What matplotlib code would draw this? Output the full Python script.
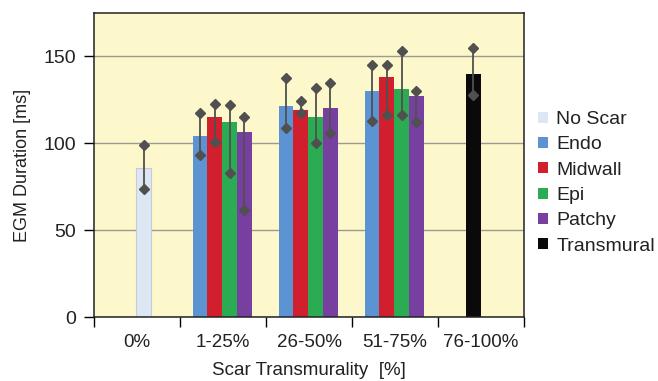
import matplotlib
matplotlib.use("Agg")
import matplotlib.pyplot as plt
import numpy as np
from matplotlib.patches import Patch

plt.rcParams['font.family'] = ['Liberation Sans', 'DejaVu Sans']

categories = ['0%', '1-25%', '26-50%', '51-75%', '76-100%']
series = ['No Scar', 'Endo', 'Midwall', 'Epi', 'Patchy', 'Transmural']
colors = ['#dde7f4', '#5b93d3', '#d21f2e', '#2bab52', '#7740a0', '#0a0a0a']

# No Scar (0%)
no_scar_mean = [86.0]
no_scar_hi = [99.0]
no_scar_lo = [73.5]
# Scar subtypes for 1-25%, 26-50%, 51-75%
endo_mean = [104.0, 121.5, 130.2]
endo_hi = [117.6, 137.8, 145.2]
endo_lo = [93.3, 108.6, 113.0]
midwall_mean = [115.3, 119.3, 138.4]
midwall_hi = [122.7, 124.6, 145.2]
midwall_lo = [100.9, 117.7, 116.3]
epi_mean = [112.5, 115.0, 131.1]
epi_hi = [122.1, 131.7, 153.4]
epi_lo = [82.7, 100.0, 116.3]
patchy_mean = [106.7, 120.2, 127.3]
patchy_hi = [115.3, 134.6, 130.3]
patchy_lo = [61.5, 106.0, 112.5]
# Transmural (76-100%)
transmural_mean = [140.0]
transmural_hi = [154.8]
transmural_lo = [127.9]

fig = plt.figure(figsize=(6.58, 3.81), dpi=100)
ax = fig.add_axes([94/658, 64/381, 430/658, 304/381])
ax.set_facecolor('#fcf8cb')

w = 0.172
err_col = '#505050'

def draw(xs, mean, hi, lo, color, edge=None):
    ax.bar(xs, mean, width=w, color=color, edgecolor=edge if edge else 'none',
           linewidth=0.8 if edge else 0, zorder=2)
    ax.vlines(xs, lo, hi, color=err_col, lw=1.3, zorder=3)
    ax.plot(xs, hi, linestyle='none', marker='D', ms=5, color=err_col, zorder=4)
    ax.plot(xs, lo, linestyle='none', marker='D', ms=5, color=err_col, zorder=4)

draw(np.array([0]) + 0.08, no_scar_mean, no_scar_hi, no_scar_lo, colors[0], edge='#c8ccd4')
grp = np.array([1, 2, 3])
for i, (m, h, l) in enumerate([(endo_mean, endo_hi, endo_lo),
                                (midwall_mean, midwall_hi, midwall_lo),
                                (epi_mean, epi_hi, epi_lo),
                                (patchy_mean, patchy_hi, patchy_lo)]):
    draw(grp + (i - 1.5) * w - 0.01, m, h, l, colors[i + 1])
draw(np.array([4]) - 0.09, transmural_mean, transmural_hi, transmural_lo, colors[5])

ax.set_xlim(-0.5, 4.5)
ax.set_ylim(0, 175)
ax.set_yticks([0, 50, 100, 150])
ax.yaxis.grid(True, color='#9a9a92', lw=1)
ax.set_axisbelow(True)
ax.set_xticks(np.arange(-0.5, 5, 1))
ax.set_xticklabels([])
ax.set_xticks(np.arange(5), minor=True)
ax.set_xticklabels(categories, minor=True)
ax.tick_params(axis='x', which='major', direction='out', length=7, width=1, color='black')
ax.tick_params(axis='x', which='minor', length=0, labelsize=13.5, pad=12, colors='#222222')
ax.tick_params(axis='y', direction='out', length=7, width=1, labelsize=14, pad=6,
               colors='black', labelcolor='#222222')
for s in ax.spines.values():
    s.set_color('#222222')
    s.set_linewidth(1.1)

ax.set_ylabel('EGM Duration [ms]', fontsize=13, color='#222222', labelpad=9)
ax.set_xlabel('Scar Transmurality  [%]', fontsize=13.5, color='#222222', labelpad=8)

handles = [Patch(facecolor=c, edgecolor='none') for c in colors]
leg = fig.legend(handles, series, loc='upper left', bbox_to_anchor=(538/658, 1 - 111/381),
                 frameon=False, fontsize=14, handlelength=0.5, handleheight=0.5,
                 handletextpad=0.45, labelspacing=0.43, borderaxespad=0, borderpad=0)
for t in leg.get_texts():
    t.set_color('#222222')

fig.savefig('out.png', dpi=100)
